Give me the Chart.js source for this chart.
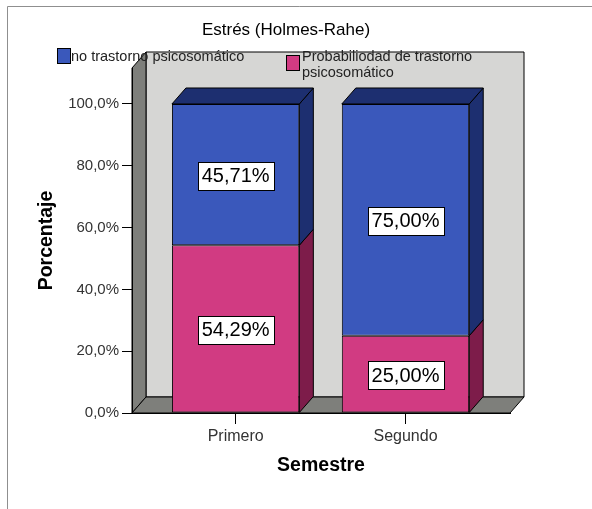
<!DOCTYPE html>
<html>
<head>
<meta charset="utf-8">
<script src="https://cdn.jsdelivr.net/npm/chart.js@4.4.0/dist/chart.umd.min.js"></script>
<style>
  html, body { margin: 0; padding: 0; background: #fff; }
  canvas { display: block; }
</style>
</head>
<body>
<canvas id="grafico_estres" width="592" height="509"></canvas>
<script>
// datos
const titulo = 'Estrés (Holmes-Rahe)';
const semestres = ['Primero', 'Segundo'];
const noTrastorno = [45.71, 75.00];
const probTrastorno = [54.29, 25.00];
const marcasY = [0, 20, 40, 60, 80, 100];
const textoNo = 'no trastorno psicosomático';
const textoProb = ['Probabiliodad de trastorno', 'psicosomático'];

const fuente = 'Arial, "Liberation Sans", sans-serif';
const dx = 14, dy = 16;   // profundidad 3d

function poligono(ctx, pts, relleno) {
    ctx.beginPath();
    ctx.moveTo(pts[0][0], pts[0][1]);
    for (let i = 1; i < pts.length; i++) ctx.lineTo(pts[i][0], pts[i][1]);
    ctx.closePath();
    ctx.fillStyle = relleno;
    ctx.fill();
    ctx.stroke();
}

const coma = (v, d) => v.toFixed(d).replace('.', ',') + '%';

const efecto3d = {
    id: 'efecto3d',
    beforeDraw(chart) {
        const ctx = chart.ctx, a = chart.chartArea;
        ctx.save();
        ctx.fillStyle = '#fff';
        ctx.fillRect(0, 0, chart.width, chart.height);
        // marco exterior
        ctx.strokeStyle = '#8f8f8f';
        ctx.lineWidth = 1;
        ctx.beginPath();
        ctx.moveTo(7.5, chart.height);
        ctx.lineTo(7.5, 6.5);
        ctx.lineTo(chart.width, 6.5);
        ctx.stroke();
        // paredes
        ctx.strokeStyle = '#000';
        poligono(ctx, [[a.left + dx, a.top - dy], [a.right + dx, a.top - dy], [a.right + dx, a.bottom - dy], [a.left + dx, a.bottom - dy]], '#d6d6d4');
        poligono(ctx, [[a.left, a.top], [a.left + dx, a.top - dy], [a.left + dx, a.bottom - dy], [a.left, a.bottom]], '#7e7f7b');
        poligono(ctx, [[a.left, a.bottom], [a.left + dx, a.bottom - dy], [a.right + dx, a.bottom - dy], [a.right, a.bottom]], '#7e7f7b');
        ctx.restore();
    },
    afterDatasetsDraw(chart) {
        const ctx = chart.ctx;
        ctx.save();
        ctx.strokeStyle = '#000';
        ctx.lineWidth = 1;
        const tope = {};
        chart.data.datasets.forEach((ds, di) => {
            chart.getDatasetMeta(di).data.forEach((el, i) => {
                const der = el.x + el.width / 2;
                poligono(ctx, [[der, el.y], [der + dx, el.y - dy], [der + dx, el.base - dy], [der, el.base]], ds.colorLado);
                if (!tope[i] || el.y < tope[i].el.y) tope[i] = { el: el, ds: ds };
            });
        });
        Object.values(tope).forEach(t => {
            const el = t.el, izq = el.x - el.width / 2, der = el.x + el.width / 2;
            poligono(ctx, [[izq, el.y], [izq + dx, el.y - dy], [der + dx, el.y - dy], [der, el.y]], t.ds.colorLado);
        });
        // etiquetas de valor
        ctx.font = '20px ' + fuente;
        ctx.textAlign = 'center';
        ctx.textBaseline = 'middle';
        chart.data.datasets.forEach((ds, di) => {
            chart.getDatasetMeta(di).data.forEach((el, i) => {
                const txt = coma(ds.data[i].y, 2);
                const w = ctx.measureText(txt).width + 8, h = 28;
                const cy = (el.y + el.base) / 2 + 1;
                ctx.fillStyle = '#fff';
                ctx.fillRect(Math.round(el.x - w / 2) + 0.5, Math.round(cy - h / 2) + 0.5, Math.round(w), h);
                ctx.strokeRect(Math.round(el.x - w / 2) + 0.5, Math.round(cy - h / 2) + 0.5, Math.round(w), h);
                ctx.fillStyle = '#000';
                ctx.fillText(txt, el.x, cy + 1);
            });
        });
        ctx.restore();
    },
    afterDraw(chart) {
        const ctx = chart.ctx;
        ctx.save();
        // titulo
        ctx.font = '17px ' + fuente;
        ctx.fillStyle = '#000';
        ctx.textAlign = 'center';
        ctx.textBaseline = 'middle';
        ctx.fillText(titulo, 286, 30);
        // leyenda
        ctx.strokeStyle = '#000';
        ctx.lineWidth = 1;
        ctx.fillStyle = '#3a58bb';
        ctx.fillRect(57.5, 48.5, 13, 15);
        ctx.strokeRect(57.5, 48.5, 13, 15);
        ctx.fillStyle = '#d13b82';
        ctx.fillRect(286.5, 55.5, 13, 15);
        ctx.strokeRect(286.5, 55.5, 13, 15);
        ctx.font = '14.5px ' + fuente;
        ctx.fillStyle = '#222';
        ctx.textAlign = 'left';
        ctx.fillText(textoNo, 71, 57);
        ctx.fillText(textoProb[0], 302, 57);
        ctx.fillText(textoProb[1], 302, 73);
        ctx.restore();
    }
};

const ctx = document.getElementById('grafico_estres').getContext('2d');
const grafico = new Chart(ctx, {
    type: 'bar',
    data: {
        datasets: [{
            label: textoProb.join(' '),
            data: probTrastorno.map((v, i) => ({ x: i, y: v })),
            backgroundColor: '#d13b82',
            colorLado: '#7d1c4a',
            borderColor: '#000',
            borderWidth: 1,
            borderSkipped: false
        }, {
            label: textoNo,
            data: noTrastorno.map((v, i) => ({ x: i, y: v })),
            backgroundColor: '#3a58bb',
            colorLado: '#1d2f70',
            borderColor: '#000',
            borderWidth: 1,
            borderSkipped: false
        }]
    },
    options: {
        responsive: false,
        animation: false,
        devicePixelRatio: 1,
        categoryPercentage: 1,
        barPercentage: 0.75,
        layout: { padding: { left: 0, right: 82, top: 68, bottom: 0 } },
        plugins: {
            legend: { display: false },
            tooltip: { enabled: false },
            title: { display: false }
        },
        scales: {
            x: {
                type: 'linear',
                stacked: true,
                offset: false,
                min: -0.61,
                max: 1.615,
                afterBuildTicks: s => { s.ticks = semestres.map((c, i) => ({ value: i })); },
                afterFit: s => { s.height = 96; },
                grid: { offset: false, drawOnChartArea: false, tickLength: 11, color: '#000' },
                border: { color: '#000' },
                ticks: {
                    padding: 3,
                    color: '#333',
                    font: { family: fuente, size: 16 },
                    callback: v => semestres[v]
                },
                title: {
                    display: true,
                    text: 'Semestre',
                    color: '#000',
                    font: { family: fuente, size: 19.5, weight: 'bold' },
                    padding: { top: 0, bottom: 31.3 }
                }
            },
            y: {
                stacked: true,
                min: 0,
                max: 111.65,
                afterBuildTicks: s => { s.ticks = marcasY.map(v => ({ value: v })); },
                afterFit: s => { s.width = 132; },
                grid: { drawOnChartArea: false, tickLength: 10, color: '#000' },
                border: { color: '#000' },
                ticks: {
                    padding: 3,
                    color: '#333',
                    font: { family: fuente, size: 15 },
                    callback: v => coma(v, 1)
                },
                title: {
                    display: true,
                    text: 'Porcentaje',
                    color: '#000',
                    font: { family: fuente, size: 19.5, weight: 'bold' },
                    padding: { top: 35, bottom: 0 }
                }
            }
        }
    },
    plugins: [efecto3d]
});
</script>
</body>
</html>
